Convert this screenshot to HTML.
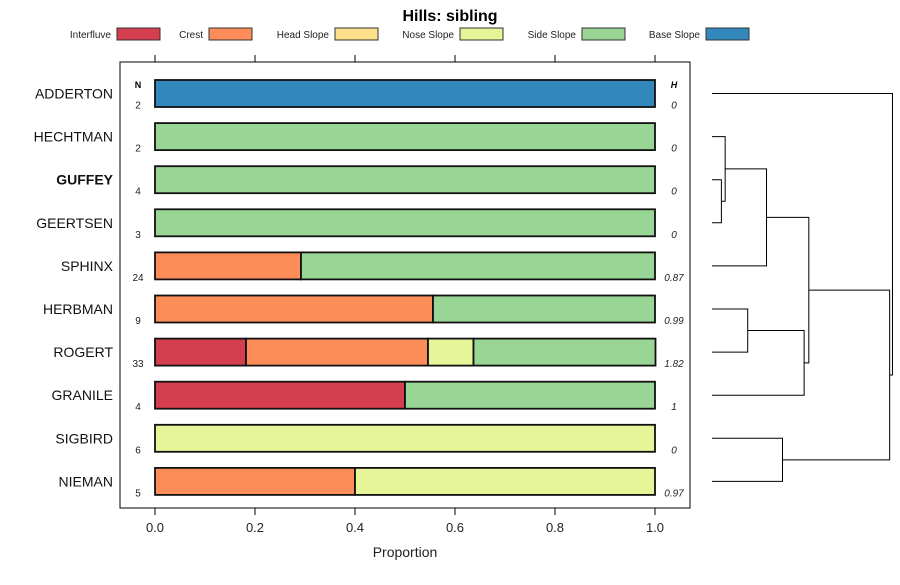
<!DOCTYPE html>
<html><head><meta charset="utf-8"><style>
body{margin:0;background:#fff;font-family:"Liberation Sans",sans-serif}
svg text{font-family:"Liberation Sans",sans-serif}
</style></head><body>
<svg id="c" width="900" height="580" xmlns="http://www.w3.org/2000/svg"></svg>
<script>
const categories=["Interfluve","Crest","Head Slope","Nose Slope","Side Slope","Base Slope"];
const colors=["#D53E4F","#FC8D59","#FEE08B","#E6F598","#99D594","#3288BD"];
const series=["ADDERTON","HECHTMAN","GUFFEY","GEERTSEN","SPHINX","HERBMAN","ROGERT","GRANILE","SIGBIRD","NIEMAN"];
const values=[
[0,0,0,0,0,1],[0,0,0,0,1,0],[0,0,0,0,1,0],[0,0,0,0,1,0],
[0,0.292,0,0,0.708,0],[0,0.556,0,0,0.444,0],[0.182,0.364,0,0.091,0.364,0],
[0.5,0,0,0,0.5,0],[0,0,0,1,0,0],[0,0.4,0,0.6,0,0]];
const nVals=[2,2,4,3,24,9,33,4,6,5];
const hVals=["0","0","0","0","0.87","0.99","1.82","1","0","0.97"];
const ticks=[0,0.2,0.4,0.6,0.8,1.0];
const tickLabels=["0.0","0.2","0.4","0.6","0.8","1.0"];
const merges=[[2,3,0.1],[1,"n0",0.14],[4,"n1",0.58],[5,6,0.38],["n3",7,0.98],[8,9,0.75],["n2","n4",1.03],["n6","n5",1.89],[0,"n7",1.92]];
const S="http://www.w3.org/2000/svg",svg=document.getElementById('c');
function el(t,a,txt){const e=document.createElementNS(S,t);for(const k in a)e.setAttribute(k,a[k]);if(txt!=null)e.textContent=txt;svg.appendChild(e);return e;}
const x=v=>155+v*500, y=i=>93.5+i*43.1;
let t=el('text',{x:450,y:21,'text-anchor':'middle','font-size':16,'font-weight':'bold'},'Hills: sibling');

const legX=[117,209,335,460,582,706];
categories.forEach((c,i)=>{
 let g=el('text',{x:legX[i]-6,y:38,'text-anchor':'end','font-size':10,fill:'#222',textLength:null});
 g.removeAttribute('textLength');g.textContent=c;
 
 let r=el('rect',{x:legX[i],y:28,width:43,height:12,fill:colors[i],stroke:'#333','stroke-width':1});
 
});
let p=el('rect',{x:120,y:62,width:570,height:446,fill:'none',stroke:'#000'});

ticks.forEach((v,i)=>{
 el('line',{x1:x(v),x2:x(v),y1:55,y2:62,stroke:'#000'});
 el('line',{x1:x(v),x2:x(v),y1:508,y2:515,stroke:'#000'});
 let tl=el('text',{x:x(v),y:532,'text-anchor':'middle','font-size':13,fill:'#222'},tickLabels[i]);
 
});
t=el('text',{x:405,y:557,'text-anchor':'middle','font-size':14,fill:'#222'},'Proportion');

el('text',{x:138,y:88,'text-anchor':'middle','font-size':9,'font-weight':'bold'},'N');
el('text',{x:674,y:88,'text-anchor':'middle','font-size':9,'font-weight':'bold','font-style':'italic'},'H');
series.forEach((s,i)=>{
 let lb=el('text',{x:113,y:y(i)+5,'text-anchor':'end','font-size':14,fill:'#111','font-weight':s==='GUFFEY'?'bold':'normal'},s);
 
 let cum=0;
 values[i].forEach((v,k)=>{ if(v<=0)return;
  let r=el('rect',{x:x(cum),y:y(i)-13.5,width:x(cum+v)-x(cum),height:27,fill:colors[k],stroke:'#111','stroke-width':1.8});
  
  cum+=v;});
 let n=el('text',{x:138,y:y(i)+15,'text-anchor':'middle','font-size':10,fill:'#222'},nVals[i]);
 
 let h=el('text',{x:674,y:y(i)+15,'text-anchor':'middle','font-size':10,'font-style':'italic',fill:'#222'},hVals[i]);
 
});
const dx=h=>712+h*94;
const nodes=[];
function pos(r){return typeof r==='number'?{y:y(r),x:712}:nodes[+r.slice(1)];}
merges.forEach(m=>{
 const a=pos(m[0]),b=pos(m[1]),hx=dx(m[2]);
 let pl=el('polyline',{points:`${a.x},${a.y} ${hx},${a.y} ${hx},${b.y} ${b.x},${b.y}`,fill:'none',stroke:'#000','stroke-width':1});
 
 nodes.push({x:hx,y:(a.y+b.y)/2});
});
</script>
</body></html>
